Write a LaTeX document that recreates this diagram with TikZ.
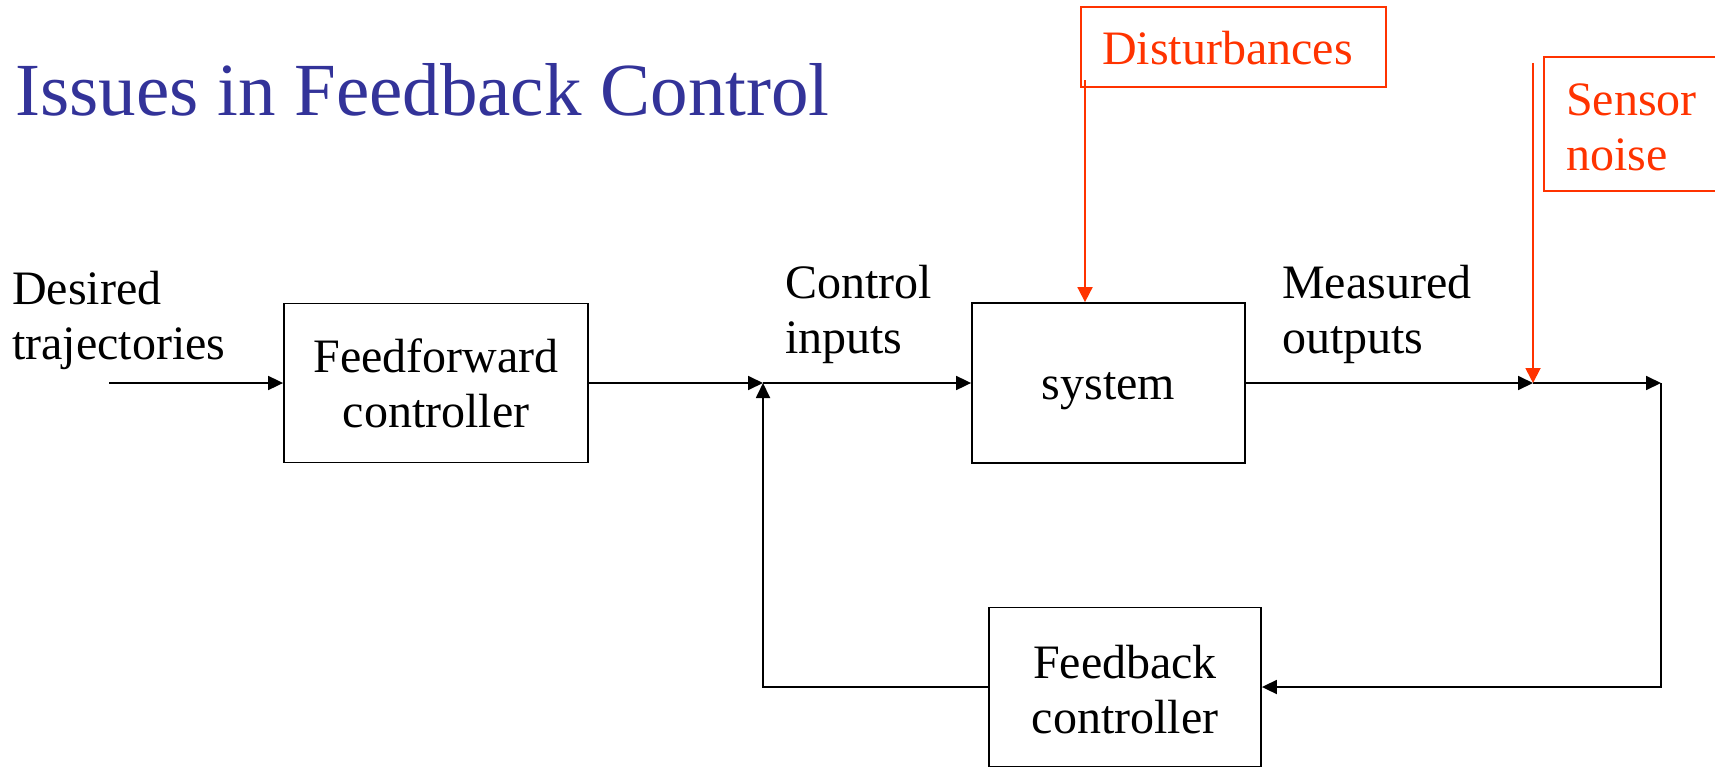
\documentclass[tikz,border=0pt]{standalone}
\usepackage{fontspec}
\setmainfont{Liberation Serif}
\usetikzlibrary{arrows.meta}
\definecolor{titleblue}{RGB}{51,51,153}
\definecolor{alertred}{RGB}{255,51,0}
\begin{document}
\begin{tikzpicture}[x=1pt,y=-1pt,
  txt/.style={inner sep=0pt, font=\fontsize{48}{55}\selectfont},
  blockbox/.style={draw, line width=1.8pt, inner sep=0pt},
  redbox/.style={draw=alertred, line width=1.8pt, inner sep=0pt},
  arr/.style={line width=1.8pt, -{Triangle[length=15pt,width=14pt]}},
  redarr/.style={alertred, line width=1.8pt, -{Triangle[length=15pt,width=15pt]}},
  wire/.style={line width=1.8pt}]
\useasboundingbox (0,0) rectangle (1715,768);
\clip (0,0) rectangle (1715,768);

% title
\node[inner sep=0pt, anchor=base west, text=titleblue,
      font=\fontsize{75}{80}\selectfont] (title) at (15,115) {Issues in Feedback Control};

% blocks
\node[blockbox, minimum width=304pt, minimum height=159pt] (ff) at (436,383) {};
\node[blockbox, minimum width=273pt, minimum height=160pt] (sys) at (1108.5,383) {};
\node[blockbox, minimum width=272pt, minimum height=159pt] (fb) at (1125,687) {};
\node[redbox, minimum width=305pt, minimum height=80pt] (dist) at (1233.5,47) {};
\node[redbox, minimum width=178pt, minimum height=134pt] (sens) at (1633,124) {};

% block texts
\node[txt, anchor=base] (fftext) at (436,372)
  {\begin{tabular}[t]{@{}c@{}}Feedforward\\controller\end{tabular}};
\node[txt, anchor=base] (systext) at (1108.5,399) {system};
\node[txt, anchor=base] (fbtext) at (1125,678)
  {\begin{tabular}[t]{@{}c@{}}Feedback\\controller\end{tabular}};
\node[txt, anchor=base west, text=alertred] (disttext) at (1102,65) {Disturbances};
\node[txt, anchor=base west, text=alertred] (senstext) at (1566,115)
  {\begin{tabular}[t]{@{}l@{}}Sensor\\noise\end{tabular}};

% signal labels
\node[txt, anchor=base west] (desired) at (12,304)
  {\begin{tabular}[t]{@{}l@{}}Desired\\trajectories\end{tabular}};
\node[txt, anchor=base west] (ctrlin) at (785,298)
  {\begin{tabular}[t]{@{}l@{}}Control\\inputs\end{tabular}};
\node[txt, anchor=base west] (measout) at (1282,298)
  {\begin{tabular}[t]{@{}l@{}}Measured\\outputs\end{tabular}};

% junction points
\coordinate (src) at (109,383);
\coordinate (sum) at (763,383);
\coordinate (nsum) at (1533,383);
\coordinate (outc) at (1661,383);
\coordinate (fbr) at (1661,687);
\coordinate (fbl) at (763,687);
\coordinate (dtop) at (1085,80);
\coordinate (ntop) at (1533,63);

% forward path
\draw[arr] (src) -- (ff.west);
\draw[arr] (ff.east) -- (sum);
\draw[arr] (sum) -- (sys.west);
\draw[arr] (sys.east) -- (nsum);
\draw[arr] (nsum) -- (outc);

% feedback path
\draw[arr] (outc) -- (fbr) -- (fb.east);
\draw[arr] (fb.west) -- (fbl) -- (sum);

% disturbance and noise inputs
\draw[redarr] (dtop) -- (dtop |- sys.north);
\draw[redarr] (ntop) -- (nsum);
\end{tikzpicture}
\end{document}
